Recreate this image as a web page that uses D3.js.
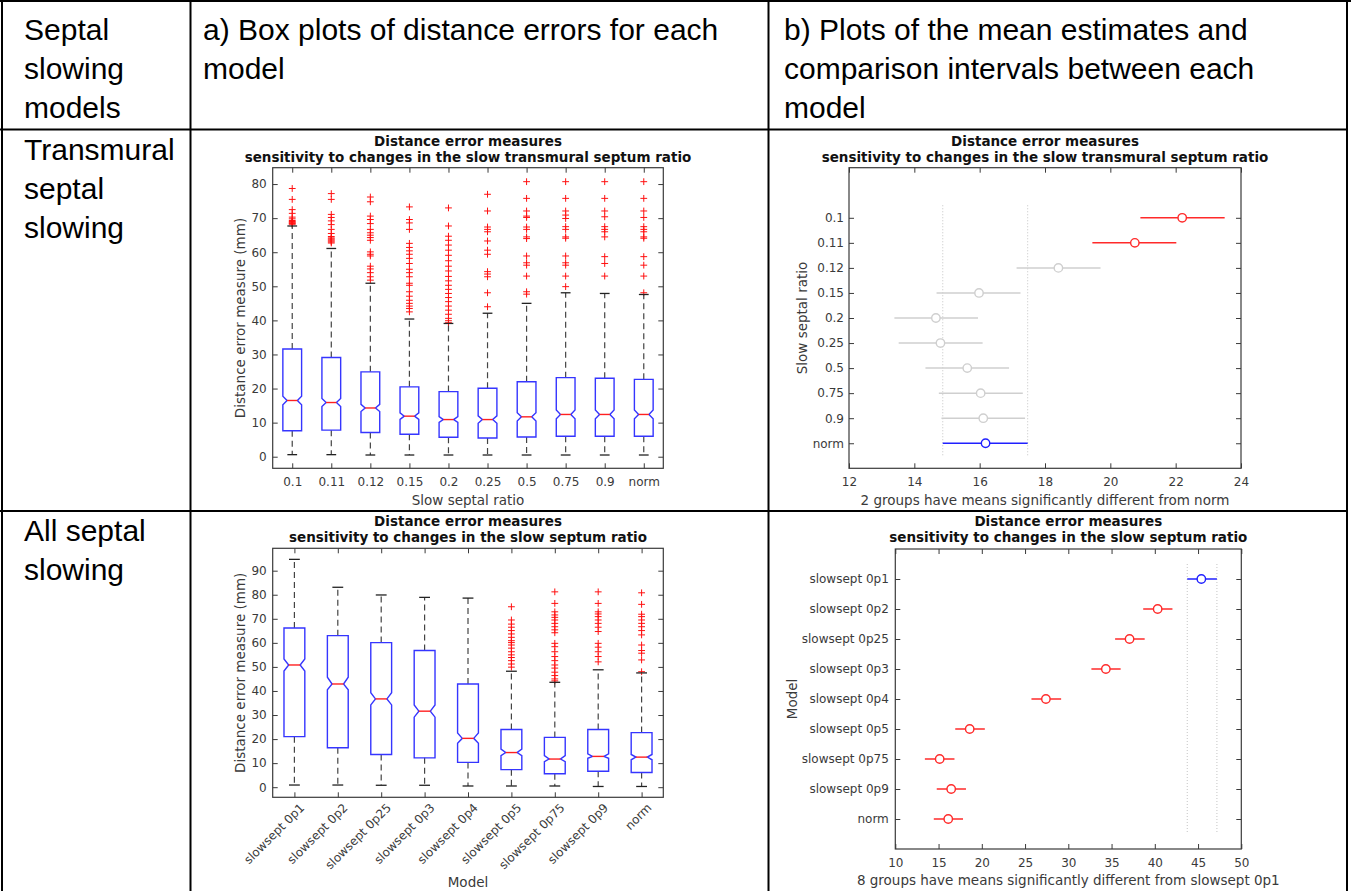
<!DOCTYPE html>
<html><head><meta charset="utf-8">
<script src="https://cdn.jsdelivr.net/npm/d3@7"></script>
<style>body{margin:0;background:#fff;} svg{display:block;}</style>
</head><body><svg id="c" width="1351" height="891"></svg>
<script>
// ---------------- DATA ----------------
const headerCol1 = ["Septal", "slowing", "models"];
const headerCol2 = ["a) Box plots of distance errors for each", "model"];
const headerCol3 = ["b) Plots of the mean estimates and", "comparison intervals between each", "model"];
const row1Label = ["Transmural", "septal", "slowing"];
const row2Label = ["All septal", "slowing"];

// Panel a (top): transmural septal slowing box plots
const a1Title = ["Distance error measures", "sensitivity to changes in the slow transmural septum ratio"];
const a1Categories = ["0.1", "0.11", "0.12", "0.15", "0.2", "0.25", "0.5", "0.75", "0.9", "norm"];
const a1Q1 = [7.6, 7.8, 7.1, 6.6, 5.7, 5.5, 5.8, 6.0, 6.0, 6.0];
const a1Median = [16.5, 15.9, 14.3, 11.9, 10.9, 10.9, 11.7, 12.4, 12.4, 12.4];
const a1Q3 = [31.6, 29.1, 24.9, 20.5, 19.1, 20.1, 22.0, 23.2, 23.0, 22.7];
const a1NotchLo = [15.25, 14.7, 13.25, 10.95, 10.05, 9.8, 10.5, 11.1, 11.1, 11.1];
const a1NotchHi = [17.75, 17.1, 15.35, 12.85, 11.75, 12.0, 12.9, 13.7, 13.7, 13.7];
const a1WhiskerLo = [0.6, 0.6, 0.5, 0.5, 0.5, 0.5, 0.5, 0.5, 0.5, 0.5];
const a1WhiskerHi = [67.7, 61.1, 50.9, 40.4, 39.1, 42.1, 45.0, 48.1, 47.9, 47.6];
const a1Outliers = [
  [78.7, 75.5, 72.5, 71.4, 70.3, 69.8, 69.3, 69.0, 68.8, 68.6, 68.4, 68.2],
  [77.2, 75.5, 71.1, 70.2, 69.2, 68.1, 66.7, 65.5, 64.6, 64.2, 63.9, 63.6, 63.3, 63.0, 62.7],
  [76.2, 74.8, 70.6, 69.6, 68.4, 66.7, 65.7, 65.0, 64.3, 63.5, 60.1, 59.4, 58.9, 55.9, 55.1, 54.0, 52.8, 51.8],
  [73.3, 69.6, 68.6, 66.7, 62.6, 61.4, 60.4, 59.4, 58.2, 56.7, 55.0, 54.0, 52.8, 50.9, 50.3, 48.4, 47.1, 45.9, 45.0, 44.2, 43.5, 42.5],
  [73.0, 67.7, 64.7, 63.5, 62.1, 60.6, 59.1, 57.5, 55.9, 54.5, 52.9, 51.6, 50.3, 49.1, 47.9, 46.7, 45.5, 44.2, 43.0, 41.8, 40.6, 39.9, 39.3],
  [77.0, 72.1, 67.4, 66.7, 66.0, 63.3, 60.6, 59.4, 54.3, 53.6, 52.8, 48.1, 44.0],
  [80.7, 75.8, 72.1, 70.6, 70.2, 67.4, 66.7, 64.5, 64.0, 58.9, 56.9, 56.2, 53.0, 48.4, 47.7],
  [80.7, 75.8, 72.1, 70.9, 69.9, 67.5, 66.7, 64.5, 64.1, 58.9, 56.9, 56.2, 53.0, 49.9],
  [80.7, 75.8, 72.1, 70.4, 67.5, 66.7, 66.0, 64.5, 58.7, 56.7, 53.0],
  [80.7, 75.8, 72.1, 70.2, 67.5, 66.7, 66.0, 64.5, 64.1, 58.7, 56.2, 53.0, 48.1]
];
const a1YTicks = [0, 10, 20, 30, 40, 50, 60, 70, 80];
const a1YDomain = [-3.4, 84.8];
const a1XLabel = "Slow septal ratio";
const a1YLabel = "Distance error measure (mm)";

// Panel a (bottom): all septal slowing box plots
const a2Title = ["Distance error measures", "sensitivity to changes in the slow septum ratio"];
const a2Categories = ["slowsept 0p1", "slowsept 0p2", "slowsept 0p25", "slowsept 0p3", "slowsept 0p4", "slowsept 0p5", "slowsept 0p75", "slowsept 0p9", "norm"];
const a2Q1 = [21.0, 16.4, 13.6, 12.2, 10.3, 7.3, 5.6, 6.6, 6.1];
const a2Median = [50.8, 42.9, 36.7, 31.6, 20.3, 14.4, 11.7, 12.8, 12.5];
const a2Q3 = [66.2, 63.0, 60.1, 56.8, 42.9, 24.0, 20.7, 24.0, 22.7];
const a2NotchLo = [48.3, 40.5, 34.2, 29.1, 18.3, 13.1, 10.6, 12.0, 11.4];
const a2NotchHi = [53.3, 45.7, 39.3, 34.2, 22.5, 15.8, 13.1, 13.9, 13.6];
const a2WhiskerLo = [0.9, 0.9, 0.8, 0.8, 0.5, 0.5, 0.5, 0.3, 0.3];
const a2WhiskerHi = [94.7, 83.1, 79.9, 78.9, 78.6, 48.2, 43.6, 48.8, 47.5];
const a2Outliers = [
  [], [], [], [], [],
  [75.0, 69.5, 67.8, 66.5, 65.1, 63.7, 62.3, 60.9, 60.1, 59.1, 57.8, 56.3, 55.0, 53.9, 52.6, 51.2, 49.9],
  [81.2, 76.4, 72.9, 71.6, 70.6, 69.5, 68.1, 66.7, 65.4, 64.2, 59.8, 58.4, 56.3, 54.3, 52.6, 50.8, 49.5, 47.8, 46.4, 45.0, 44.2],
  [81.2, 76.4, 72.9, 72.0, 70.9, 69.5, 68.1, 66.5, 64.7, 59.8, 58.2, 56.3, 54.3, 52.1],
  [80.8, 76.0, 71.9, 70.9, 69.5, 68.1, 66.7, 65.1, 63.3, 59.1, 56.8, 55.7, 52.9, 48.0]
];
const a2YTicks = [0, 10, 20, 30, 40, 50, 60, 70, 80, 90];
const a2YDomain = [-4.2, 99.3];
const a2XLabel = "Model";
const a2YLabel = "Distance error measure (mm)";

// Panel b (top): multiple comparison, transmural
const b1Title = ["Distance error measures", "sensitivity to changes in the slow transmural septum ratio"];
const b1Categories = ["0.1", "0.11", "0.12", "0.15", "0.2", "0.25", "0.5", "0.75", "0.9", "norm"];
const b1Mean = [22.2, 20.75, 18.41, 15.98, 14.66, 14.80, 15.62, 16.03, 16.11, 16.18];
const b1Lower = [20.92, 19.45, 17.13, 14.68, 13.39, 13.52, 14.34, 14.75, 14.83, 14.87];
const b1Upper = [23.5, 22.02, 19.7, 17.25, 15.95, 16.09, 16.90, 17.32, 17.39, 17.47];
const b1Status = ["diff", "diff", "same", "same", "same", "same", "same", "same", "same", "ref"];
const b1XTicks = [12, 14, 16, 18, 20, 22, 24];
const b1XDomain = [12, 24];
const b1XLabel = "2 groups have means significantly different from norm";
const b1YLabel = "Slow septal ratio";

// Panel b (bottom): multiple comparison, all septal
const b2Title = ["Distance error measures", "sensitivity to changes in the slow septum ratio"];
const b2Categories = ["slowsept 0p1", "slowsept 0p2", "slowsept 0p25", "slowsept 0p3", "slowsept 0p4", "slowsept 0p5", "slowsept 0p75", "slowsept 0p9", "norm"];
const b2Mean = [45.38, 40.33, 37.08, 34.34, 27.41, 18.60, 15.13, 16.46, 16.12];
const b2Lower = [43.75, 38.66, 35.41, 32.67, 25.74, 16.93, 13.42, 14.79, 14.45];
const b2Upper = [47.18, 42.04, 38.83, 36.05, 29.17, 20.35, 16.84, 18.17, 17.83];
const b2Status = ["ref", "diff", "diff", "diff", "diff", "diff", "diff", "diff", "diff"];
const b2XTicks = [10, 15, 20, 25, 30, 35, 40, 45, 50];
const b2XDomain = [10, 50];
const b2XLabel = "8 groups have means significantly different from slowsept 0p1";
const b2YLabel = "Model";

// ---------------- DRAWING ----------------
const svg = d3.select("#c");
const PF = "'DejaVu Sans', sans-serif";
const HF = "'Liberation Sans', Arial, sans-serif";
const AX = "#3a3a3a";
const TICK_FS = 12, LAB_FS = 13.5, TITLE_FS = 13.5;

// Table text
function lines(arr, x, y0, dy) {
  arr.forEach((t, i) => svg.append("text").attr("x", x).attr("y", y0 + i * dy)
    .attr("font-family", HF).attr("font-size", 30).attr("fill", "#000").text(t));
}
lines(headerCol1, 24, 40, 39);
lines(headerCol2, 203, 40, 39);
lines(headerCol3, 784, 40, 39);
lines(row1Label, 24, 160, 39);
lines(row2Label, 24, 541, 39);

// Table lines
const tl = svg.append("g").attr("stroke", "#000").attr("stroke-width", 2);
[[0, 1, 1351, 1], [0, 129.5, 1348, 129.5], [0, 511, 1348, 511]].forEach(l =>
  tl.append("line").attr("x1", l[0]).attr("y1", l[1]).attr("x2", l[2]).attr("y2", l[3]));
[[2, 0, 2, 891], [190.5, 0, 190.5, 891], [768.5, 0, 768.5, 891], [1347, 0, 1347, 891]].forEach(l =>
  tl.append("line").attr("x1", l[0]).attr("y1", l[1]).attr("x2", l[2]).attr("y2", l[3]));

function styleAxis(g) {
  g.select(".domain").remove();
  g.selectAll(".tick line").attr("stroke", AX).attr("stroke-width", 1);
  g.selectAll(".tick text").attr("font-family", PF).attr("font-size", TICK_FS).attr("fill", AX);
}

function frameAndTitle(g, L, R, T, B, title, titleOff) {
  g.append("rect").attr("x", L).attr("y", T).attr("width", R - L).attr("height", B - T)
    .attr("fill", "none").attr("stroke", AX).attr("stroke-width", 1.2);
  title.forEach((t, i) => g.append("text").attr("x", (L + R) / 2).attr("y", T - titleOff[i])
    .attr("text-anchor", "middle").attr("font-family", PF).attr("font-weight", "bold")
    .attr("font-size", TITLE_FS).attr("fill", "#111").text(t));
}

function axisLabels(g, o) {
  g.append("text").attr("x", (o.L + o.R) / 2).attr("y", o.xlabY).attr("text-anchor", "middle")
    .attr("font-family", PF).attr("font-size", LAB_FS).attr("fill", AX).text(o.xlabel);
  g.append("text").attr("transform", `translate(${o.ylabX},${(o.T + o.B) / 2}) rotate(-90)`)
    .attr("text-anchor", "middle").attr("dy", "0.35em")
    .attr("font-family", PF).attr("font-size", LAB_FS).attr("fill", AX).text(o.ylabel);
}

function boxPanel(o) {
  const g = svg.append("g");
  const x = d3.scalePoint().domain(o.cats).range([o.L, o.R]).padding(0.5);
  const y = d3.scaleLinear().domain(o.ydom).range([o.B, o.T]);
  const step = x.step();
  const hw = 0.24 * step, inset = 0.24 * step * 0.45, cap = 0.125 * step;

  const ax1 = g.append("g").attr("transform", `translate(${o.L},0)`)
    .call(d3.axisLeft(y).tickValues(o.yticks).tickSizeInner(-5).tickSizeOuter(0).tickPadding(6));
  styleAxis(ax1);
  const ax2 = g.append("g").attr("transform", `translate(${o.R},0)`)
    .call(d3.axisRight(y).tickValues(o.yticks).tickSizeInner(-5).tickSizeOuter(0).tickFormat(""));
  styleAxis(ax2);
  const ax3 = g.append("g").attr("transform", `translate(0,${o.B})`)
    .call(d3.axisBottom(x).tickSizeInner(-5).tickSizeOuter(0).tickPadding(9));
  styleAxis(ax3);
  if (o.rotate) {
    ax3.selectAll(".tick text").attr("text-anchor", "end").attr("dy", "0.35em")
      .attr("transform", "translate(3,4) rotate(-45)").attr("y", 6).attr("x", 0);
  }
  const ax4 = g.append("g").attr("transform", `translate(0,${o.T})`)
    .call(d3.axisTop(x).tickSizeInner(-5).tickSizeOuter(0).tickFormat(""));
  styleAxis(ax4);
  frameAndTitle(g, o.L, o.R, o.T, o.B, o.title, [22, 6]);

  // outliers
  o.cats.forEach((c, i) => {
    o.out[i].forEach(v => {
      const cx = x(c), cy = y(v), a = 3.4;
      g.append("path").attr("d", `M${cx - a},${cy}H${cx + a}M${cx},${cy - a}V${cy + a}`)
        .attr("stroke", "#ff1010").attr("stroke-width", 1).attr("fill", "none");
    });
  });
  // whiskers
  o.cats.forEach((c, i) => {
    const cx = x(c);
    g.append("line").attr("x1", cx).attr("x2", cx).attr("y1", y(o.q3[i])).attr("y2", y(o.whi[i]))
      .attr("stroke", "#444").attr("stroke-width", 1.2).attr("stroke-dasharray", "6,4");
    g.append("line").attr("x1", cx).attr("x2", cx).attr("y1", y(o.q1[i])).attr("y2", y(o.wlo[i]))
      .attr("stroke", "#444").attr("stroke-width", 1.2).attr("stroke-dasharray", "6,4");
    [o.whi[i], o.wlo[i]].forEach(v => g.append("line").attr("x1", cx - cap).attr("x2", cx + cap)
      .attr("y1", y(v)).attr("y2", y(v)).attr("stroke", "#222").attr("stroke-width", 1.3));
  });
  // notched boxes
  o.cats.forEach((c, i) => {
    const cx = x(c);
    const yq1 = y(o.q1[i]), yq3 = y(o.q3[i]), ym = y(o.med[i]), ynl = y(o.nlo[i]), ynh = y(o.nhi[i]);
    const d = `M${cx - hw},${yq3}L${cx + hw},${yq3}L${cx + hw},${ynh}L${cx + hw - inset},${ym}L${cx + hw},${ynl}L${cx + hw},${yq1}` +
      `L${cx - hw},${yq1}L${cx - hw},${ynl}L${cx - hw + inset},${ym}L${cx - hw},${ynh}Z`;
    g.append("path").attr("d", d).attr("fill", "none").attr("stroke", "#3535ff").attr("stroke-width", 1.4);
    g.append("line").attr("x1", cx - hw + inset).attr("x2", cx + hw - inset).attr("y1", ym).attr("y2", ym)
      .attr("stroke", "#ff2020").attr("stroke-width", 1.4);
  });
  axisLabels(g, o);
}

function compPanel(o) {
  const g = svg.append("g");
  const n = o.cats.length;
  const x = d3.scaleLinear().domain(o.xdom).range([o.L, o.R]);
  const y = d3.scaleLinear().domain([-o.padTop, n]).range([o.T, o.B]);
  const idx = d3.range(n);

  const ax1 = g.append("g").attr("transform", `translate(${o.L},0)`)
    .call(d3.axisLeft(y).tickValues(idx).tickFormat(i => o.cats[i]).tickSizeInner(-5).tickSizeOuter(0).tickPadding(o.yPad));
  styleAxis(ax1);
  const ax2 = g.append("g").attr("transform", `translate(${o.R},0)`)
    .call(d3.axisRight(y).tickValues(idx).tickSizeInner(-5).tickSizeOuter(0).tickFormat(""));
  styleAxis(ax2);
  const ax3 = g.append("g").attr("transform", `translate(0,${o.B})`)
    .call(d3.axisBottom(x).tickValues(o.xticks).tickSizeInner(-5).tickSizeOuter(0).tickPadding(9));
  styleAxis(ax3);
  const ax4 = g.append("g").attr("transform", `translate(0,${o.T})`)
    .call(d3.axisTop(x).tickValues(o.xticks).tickSizeInner(-5).tickSizeOuter(0).tickFormat(""));
  styleAxis(ax4);
  frameAndTitle(g, o.L, o.R, o.T, o.B, o.title, o.titleOff);

  const ref = o.status.indexOf("ref");
  [o.lo[ref], o.hi[ref]].forEach(v => g.append("line").attr("x1", x(v)).attr("x2", x(v))
    .attr("y1", y(-0.5)).attr("y2", y(n - 0.5)).attr("stroke", "#c4c4c4").attr("stroke-width", 1)
    .attr("stroke-dasharray", "1,2"));

  const col = s => s === "ref" ? "#2020ff" : (s === "diff" ? "#ff2a2a" : "#cfcfcf");
  idx.forEach(i => {
    const c = col(o.status[i]);
    g.append("line").attr("x1", x(o.lo[i])).attr("x2", x(o.hi[i])).attr("y1", y(i)).attr("y2", y(i))
      .attr("stroke", c).attr("stroke-width", 1.5);
    g.append("circle").attr("cx", x(o.mean[i])).attr("cy", y(i)).attr("r", 4.2)
      .attr("fill", "#fff").attr("stroke", c).attr("stroke-width", 1.4);
  });
  axisLabels(g, o);
}

boxPanel({cats: a1Categories, q1: a1Q1, med: a1Median, q3: a1Q3, nlo: a1NotchLo, nhi: a1NotchHi,
  wlo: a1WhiskerLo, whi: a1WhiskerHi, out: a1Outliers, yticks: a1YTicks, ydom: a1YDomain,
  L: 272.7, R: 663.3, T: 167.7, B: 468.3, title: a1Title, xlabel: a1XLabel, ylabel: a1YLabel,
  xlabY: 504.5, ylabX: 240.5, rotate: false});

boxPanel({cats: a2Categories, q1: a2Q1, med: a2Median, q3: a2Q3, nlo: a2NotchLo, nhi: a2NotchHi,
  wlo: a2WhiskerLo, whi: a2WhiskerHi, out: a2Outliers, yticks: a2YTicks, ydom: a2YDomain,
  L: 272.7, R: 663.3, T: 548.3, B: 797.3, title: a2Title, xlabel: a2XLabel, ylabel: a2YLabel,
  xlabY: 887, ylabX: 240.5, rotate: true});

compPanel({cats: b1Categories, mean: b1Mean, lo: b1Lower, hi: b1Upper, status: b1Status,
  xticks: b1XTicks, xdom: b1XDomain, padTop: 2, L: 849, R: 1241, T: 167.7, B: 468.3,
  title: b1Title, titleOff: [22, 6], xlabel: b1XLabel, ylabel: b1YLabel, xlabY: 504.5, ylabX: 802, yPad: 5});

compPanel({cats: b2Categories, mean: b2Mean, lo: b2Lower, hi: b2Upper, status: b2Status,
  xticks: b2XTicks, xdom: b2XDomain, padTop: 1, L: 895.3, R: 1241.3, T: 549, B: 849,
  title: b2Title, titleOff: [23, 7], xlabel: b2XLabel, ylabel: b2YLabel, xlabY: 884.5, ylabX: 792, yPad: 6.5});
</script>
</body></html>
